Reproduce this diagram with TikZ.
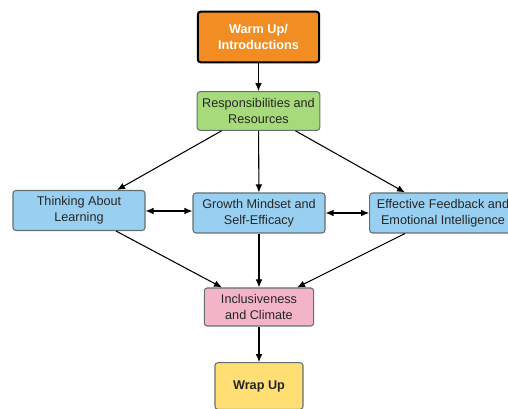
\documentclass[tikz,border=0pt]{standalone}
\usepackage{fontspec}
\setmainfont{Liberation Sans}
\usetikzlibrary{arrows.meta,calc}
\definecolor{box_orange}{RGB}{241, 141, 34}
\definecolor{box_green}{RGB}{166, 218, 122}
\definecolor{box_blue}{RGB}{153, 208, 242}
\definecolor{box_pink}{RGB}{243, 180, 200}
\definecolor{box_yellow}{RGB}{255, 222, 115}
\definecolor{box_edge}{RGB}{100, 112, 112}
\tikzstyle{base}=[rectangle,rounded corners=2.2pt,draw=box_edge,line width=0.8pt,
  align=center,inner sep=2pt,font=\fontsize{9.5}{12}\selectfont,text=black!85]
\tikzstyle{ob}=[base,fill=box_orange,draw=black,line width=1.6pt,text=white,
  font=\fontsize{9.5}{12}\selectfont\bfseries,minimum width=91pt,minimum height=38pt]
\tikzstyle{gb}=[base,fill=box_green,minimum width=92pt,minimum height=29pt]
\tikzstyle{bb}=[base,fill=box_blue,minimum width=99pt,minimum height=30pt]
\tikzstyle{pb}=[base,fill=box_pink,minimum width=82pt,minimum height=28.5pt]
\tikzstyle{yb}=[base,fill=box_yellow,minimum width=66pt,minimum height=35pt,
  font=\fontsize{9.5}{12}\selectfont\bfseries]
\tikzstyle{arr}=[-{Latex[length=6pt,width=5pt]},line width=0.8pt,black]
\tikzstyle{darr}=[{Latex[length=6pt,width=5pt]}-{Latex[length=6pt,width=5pt]},line width=0.8pt,black]

\begin{document}
\begin{tikzpicture}[x=0.75pt,y=-0.75pt]
            \useasboundingbox (0, 0) rectangle (508, 409);
            \node [style=ob] (0) at (258.5, 37) {Warm Up/\\Introductions};
            \node [style=gb] (1) at (258.5, 111) {Responsibilities and\\Resources};
            \node [style=bb] (2) at (79, 210.5) {Thinking About\\Learning};
            \node [style=bb] (3) at (259, 213) {Growth Mindset and\\Self-Efficacy};
            \node [style=bb, minimum width=110pt] (4) at (443, 213) {Effective Feedback and\\Emotional Intelligence};
            \node [style=pb] (5) at (259, 307) {Inclusiveness\\and Climate};
            \node [style=yb] (6) at (259, 386) {Wrap Up};
            \draw [style=arr] (0) to (1);
            \draw [style=arr] ($(1.south)+(-37, 0)$) to ($(2.north)+(38, 0)$);
            \draw [style=arr] (1) to (3);
            \draw [style=arr] ($(1.south)+(37, 0)$) to ($(4.north)+(-38, 0)$);
            \draw [style=darr] ($(2.east)+(0, 0.5)$) to ($(3.west)+(0, -2)$);
            \draw [style=darr] (3.east) to (3.east -| 4.west);
            \draw [style=arr] ($(2.south)+(37, 0)$) to ($(5.north)+(-37, 0)$);
            \draw [style=arr] (3) to (5);
            \draw [style=arr] ($(4.south)+(-38, 0)$) to ($(5.north)+(38, 0)$);
            \draw [style=arr] (5) to (6);
    \end{tikzpicture}
\end{document}
